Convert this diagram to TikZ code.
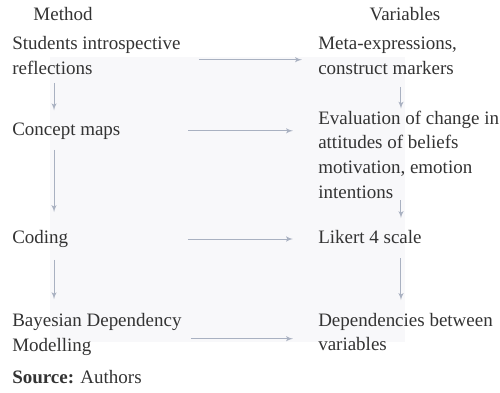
\documentclass[tikz,border=0pt]{standalone}
\usepackage{fontspec}
\setmainfont{Liberation Serif}
\usepackage{xcolor}
\usepackage{tikz}
\usetikzlibrary{positioning,arrows}

\definecolor{textgray}{HTML}{333333}
\definecolor{arrowgray}{HTML}{A9B1C1}
\definecolor{bgfaint}{HTML}{F8F8FA}

\begin{document}
\begin{tikzpicture}[
    x=0.025cm, y=-0.025cm,
    font=\fontsize{13.5}{17.5}\selectfont,
    header/.style={inner sep=0pt, text=textgray},
    item/.style={anchor=west, align=left, inner sep=0pt, text=textgray},
    link/.style={draw=arrowgray, line width=0.7pt, -latex'}
]
\useasboundingbox (0,0) rectangle (500,393);

% faint panel behind the arrows
\fill[bgfaint] (50,57) rectangle (405,342);

% Column headers
\node[header] (method) at (63,14.5) {Method};
\node[header] (vars) at (405,14.5) {Variables};

% Row 1
\node[item] (stud) at (12,55.5) {Students introspective\\reflections};
\node[item] (meta) at (318,56) {Meta-expressions,\\construct markers};
\draw[link, shorten <=12.8pt, shorten >=11.4pt] ([yshift=-3pt]stud.east) -- ([yshift=-3pt]stud.east -| meta.west);

% Row 2
\node[item] (concept) at (12,131.5) {Concept maps};
\node[item] (eval) at (318,154.7) {Evaluation of change in\\attitudes of beliefs\\motivation, emotion\\intentions};
\draw[link, shorten <=48pt, shorten >=17.8pt] ([yshift=0.5pt]concept.east) -- ([yshift=0.5pt]concept.east -| eval.west);

% Row 3
\node[item] (coding) at (12,239) {Coding};
\node[item] (likert) at (318,237) {Likert 4 scale};
\draw[link, shorten <=85pt, shorten >=17.8pt] (coding.east) -- (coding.east -| likert.west);

% Row 4
\node[item] (bayes) at (12,334.5) {Bayesian Dependency\\Modelling};
\node[item] (dep) at (318,332) {Dependencies between\\variables};
\draw[link, shorten <=6.4pt, shorten >=17.8pt] ([yshift=-3pt]bayes.east) -- ([yshift=-3pt]bayes.east -| dep.west);

% Method column, downward
\draw[link, shorten <=5.7pt, shorten >=9pt] ([xshift=29.9pt]stud.south west) -- ([xshift=29.9pt]concept.north west);
\draw[link, shorten <=7pt, shorten >=12.8pt] ([xshift=29.9pt]concept.south west) -- ([xshift=29.9pt]coding.north west);
\draw[link, shorten <=8.5pt, shorten >=10pt] ([xshift=29.9pt]coding.south west) -- ([xshift=29.9pt]bayes.north west);

% Variables column, downward
\draw[link, shorten <=8.5pt, shorten >=1.5pt] ([xshift=59pt]meta.south west) -- ([xshift=59pt]eval.north west);
\draw[link, shorten <=1pt, shorten >=8.5pt] ([xshift=59pt]eval.south west) -- ([xshift=59pt]likert.north west);
\draw[link, shorten <=10pt, shorten >=9pt] ([xshift=59pt]likert.south west) -- ([xshift=59pt]dep.north west);

% Source line
\node[item] (src) at (12,377.5) {\textbf{Source:} Authors};

\end{tikzpicture}
\end{document}
